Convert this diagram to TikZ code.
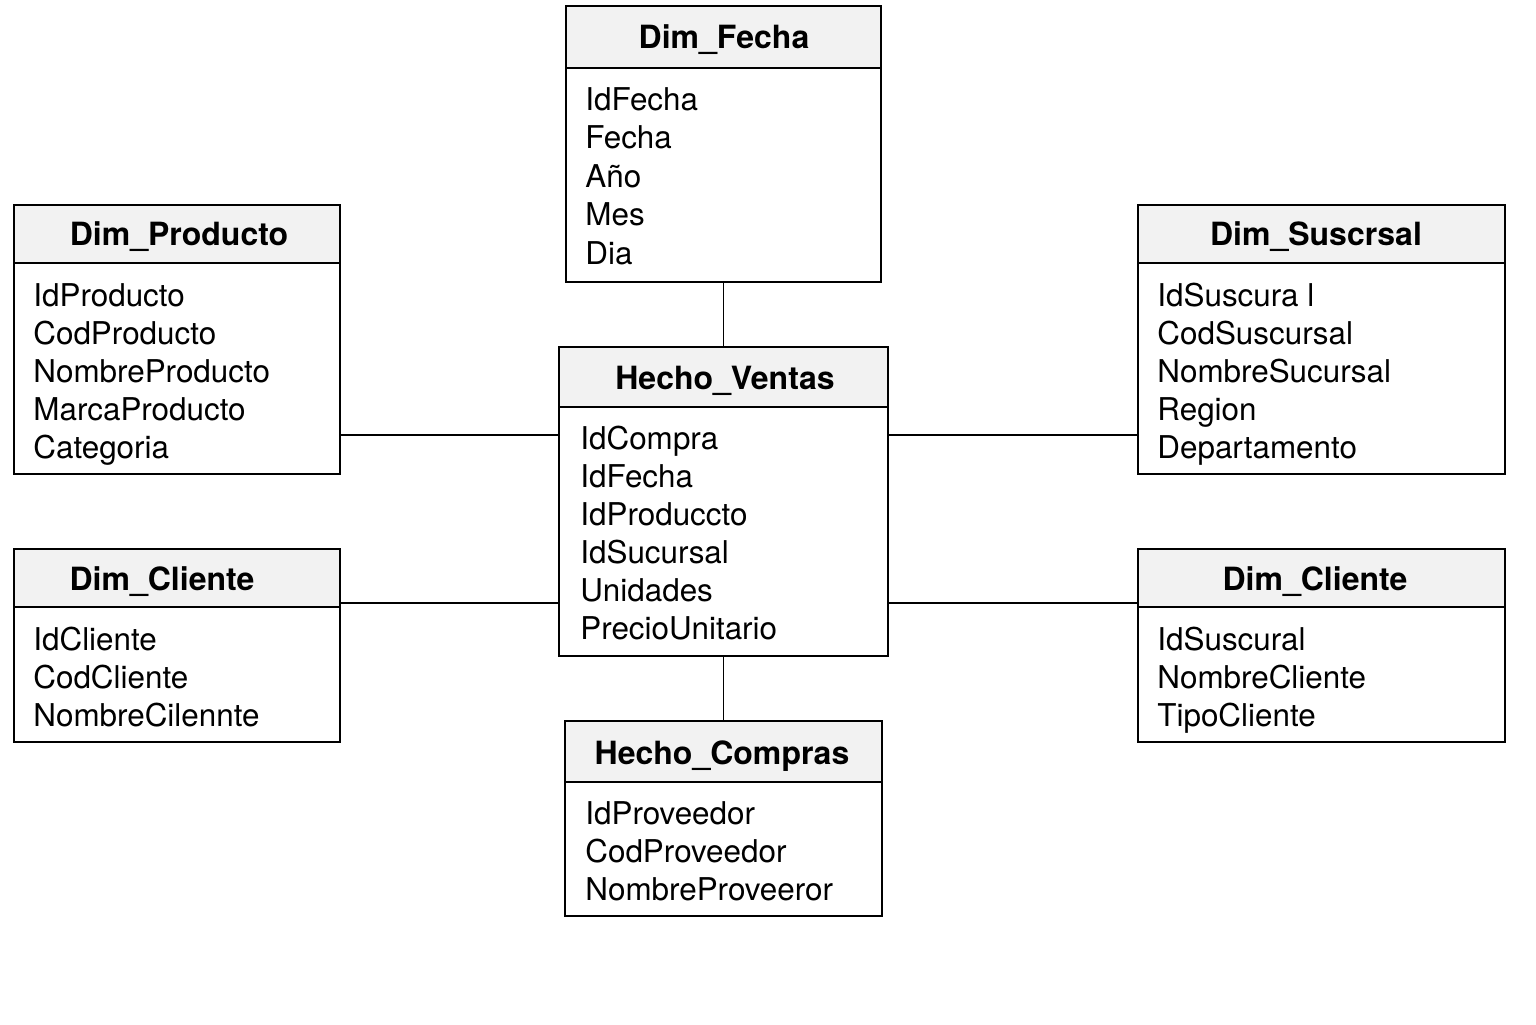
\documentclass[tikz,border=0pt]{standalone}
\usepackage{fontspec}
\setmainfont{TeX Gyre Heros}
\usetikzlibrary{fit}
\tikzset{
  tabla/.style={draw, line width=1pt, inner sep=0pt},
  cabecera/.style={fill=gray!10, draw, line width=1pt},
  titulo/.style={inner sep=0pt, font=\fontsize{16}{18}\selectfont\bfseries},
  campo/.style={anchor=base west, inner sep=0pt, font=\fontsize{15.7}{18}\selectfont},
  enlace/.style={line width=0.75pt},
}

\begin{document}
\begin{tikzpicture}
    \pgfsetxvec{\pgfpoint{0.5pt}{0}}
    \pgfsetyvec{\pgfpoint{0}{-0.5pt}}
    \useasboundingbox (0,0) rectangle (1536,1024);

    % Dim_Fecha
    \draw[cabecera] (566,6) rectangle (881,68);
    \node[tabla, fit={(566,6) (881,282)}] (fecha) {};
    \node[titulo] (fecha-t) at (724,40) {Dim\_Fecha};
    \foreach \c [count=\i from 0] in {IdFecha,Fecha,Año,Mes,Dia} {
      \node[campo] (fecha-\i) at (585,110+38.5*\i) {\c};
    }

    % Dim_Producto
    \draw[cabecera] (14,205) rectangle (340,263);
    \node[tabla, fit={(14,205) (340,474)}] (producto) {};
    \node[titulo] (producto-t) at (179,237) {Dim\_Producto};
    \foreach \c [count=\i from 0] in {IdProducto,CodProducto,NombreProducto,MarcaProducto,Categoria} {
      \node[campo] (producto-\i) at (33,306+38*\i) {\c};
    }

    % Dim_Suscrsal
    \draw[cabecera] (1138,205) rectangle (1505,263);
    \node[tabla, fit={(1138,205) (1505,474)}] (sucursal) {};
    \node[titulo] (sucursal-t) at (1316,237) {Dim\_Suscrsal};
    \foreach \c [count=\i from 0] in {IdSuscura l,CodSuscursal,NombreSucursal,Region,Departamento} {
      \node[campo] (sucursal-\i) at (1157,306+38*\i) {\c};
    }

    % Hecho_Ventas
    \draw[cabecera] (559,347) rectangle (888,407);
    \node[tabla, fit={(559,347) (888,656)}] (ventas) {};
    \node[titulo] (ventas-t) at (725,381) {Hecho\_Ventas};
    \foreach \c [count=\i from 0] in {IdCompra,IdFecha,IdProduccto,IdSucursal,Unidades,PrecioUnitario} {
      \node[campo] (ventas-\i) at (580,449+38*\i) {\c};
    }

    % Dim_Cliente (izquierda)
    \draw[cabecera] (14,549) rectangle (340,607);
    \node[tabla, fit={(14,549) (340,742)}] (clienteA) {};
    \node[titulo] (clienteA-t) at (162,582) {Dim\_Cliente};
    \foreach \c [count=\i from 0] in {IdCliente,CodCliente,NombreCilennte} {
      \node[campo] (clienteA-\i) at (33,650+38*\i) {\c};
    }

    % Dim_Cliente (derecha)
    \draw[cabecera] (1138,549) rectangle (1505,607);
    \node[tabla, fit={(1138,549) (1505,742)}] (clienteB) {};
    \node[titulo] (clienteB-t) at (1315,582) {Dim\_Cliente};
    \foreach \c [count=\i from 0] in {IdSuscural,NombreCliente,TipoCliente} {
      \node[campo] (clienteB-\i) at (1157,650+38*\i) {\c};
    }

    % Hecho_Compras
    \draw[cabecera] (565,721) rectangle (882,782);
    \node[tabla, fit={(565,721) (882,916)}] (compras) {};
    \node[titulo] (compras-t) at (722,756) {Hecho\_Compras};
    \foreach \c [count=\i from 0] in {IdProveedor,CodProveedor,NombreProveeror} {
      \node[campo] (compras-\i) at (585,824+38*\i) {\c};
    }

    % enlaces
    \coordinate (fila1) at (0,435);
    \coordinate (fila2) at (0,603);
    \draw[enlace] (fecha.south) -- (fecha.south |- ventas.north);
    \draw[enlace] (compras.north |- ventas.south) -- (compras.north);
    \draw[enlace] (producto.east |- fila1) -- (ventas.west |- fila1);
    \draw[enlace] (ventas.east |- fila1) -- (sucursal.west |- fila1);
    \draw[enlace] (clienteA.east |- fila2) -- (ventas.west |- fila2);
    \draw[enlace] (ventas.east |- fila2) -- (clienteB.west |- fila2);
  \end{tikzpicture}
\end{document}
